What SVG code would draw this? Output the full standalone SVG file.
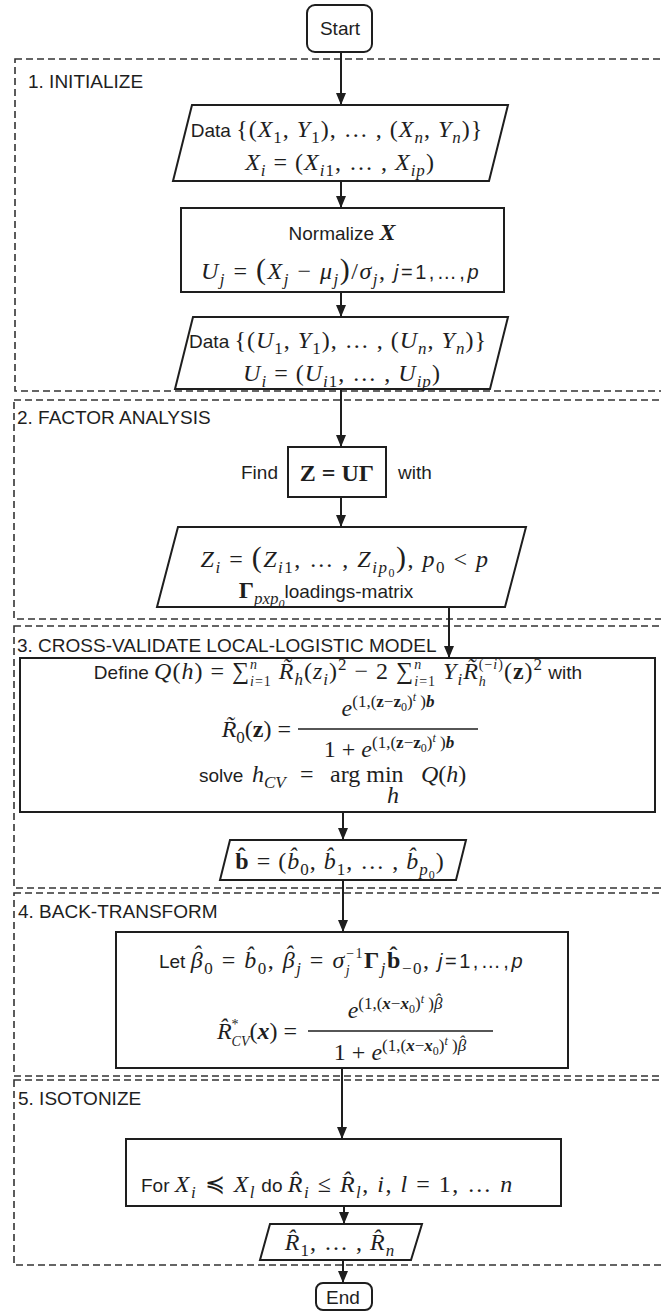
<svg xmlns="http://www.w3.org/2000/svg" width="661" height="1311" viewBox="0 0 661 1311">
<style>
.box{fill:#fff;stroke:#1e1e1e;stroke-width:2}
.sec{fill:none;stroke:#333;stroke-width:1.6;stroke-dasharray:7 4}
.con{fill:none;stroke:#1e1e1e;stroke-width:2;marker-end:url(#ah)}
text{fill:#1e1e1e}
.t{font-family:"Liberation Sans",Arial,sans-serif;font-size:19px}
.lab{font-family:"Liberation Sans",Arial,sans-serif;font-size:19px}
.m{font-family:"Liberation Serif","DejaVu Serif",serif;font-size:24px}
.i{font-style:italic}
.b{font-weight:bold}
.sb{font-size:17px;baseline-shift:-6px}
.sp{font-size:17px;baseline-shift:9px}
.lsp{font-size:14px;baseline-shift:10px}
.lsb{font-size:14px;baseline-shift:-7px}
.ss{font-size:12px;baseline-shift:-4px}
.ssp{font-size:12px;baseline-shift:6px}
.big{font-size:30px}
.sm{font-family:"Liberation Sans",Arial,sans-serif;font-size:20px;letter-spacing:2.5px}
.l1{letter-spacing:1px}
.l15{letter-spacing:1.5px}
</style>
<defs>
<marker id="ah" viewBox="0 0 12 10" refX="12" refY="5" markerWidth="12" markerHeight="10" markerUnits="userSpaceOnUse" orient="auto"><path d="M0,0 L12,5 L0,10 z" fill="#1e1e1e"/></marker>
</defs>
<rect width="661" height="1311" fill="#fff"/>

<g id="sections">
<g id="sec1"><rect class="sec" x="15" y="59" width="660" height="332"/><text class="lab" x="28" y="88">1. INITIALIZE</text></g>
<g id="sec2"><rect class="sec" x="14" y="400" width="660" height="219"/><text class="lab" x="17" y="424">2. FACTOR ANALYSIS</text></g>
<g id="sec3"><rect class="sec" x="14" y="626" width="660" height="262"/><text class="lab" x="17" y="652">3. CROSS-VALIDATE LOCAL-LOGISTIC MODEL</text></g>
<g id="sec4"><rect class="sec" x="14" y="893" width="660" height="183"/><text class="lab" x="18" y="918">4. BACK-TRANSFORM</text></g>
<g id="sec5"><rect class="sec" x="14" y="1080" width="660" height="185"/><text class="lab" x="18" y="1105">5. ISOTONIZE</text></g>
</g>

<g id="connectors">
<line class="con" x1="341" y1="52" x2="341" y2="105"/>
<line class="con" x1="341" y1="181" x2="341" y2="208"/>
<line class="con" x1="341" y1="292" x2="341" y2="317"/>
<line class="con" x1="341" y1="389" x2="341" y2="447"/>
<line class="con" x1="341" y1="497" x2="341" y2="527"/>
<line class="con" x1="449" y1="607" x2="449" y2="658"/>
<line class="con" x1="343" y1="812" x2="343" y2="840"/>
<line class="con" x1="343" y1="880" x2="343" y2="932"/>
<line class="con" x1="342" y1="1068" x2="342" y2="1139"/>
<line class="con" x1="344" y1="1206" x2="344" y2="1224"/>
<line class="con" x1="343" y1="1260" x2="343" y2="1283"/>
</g>

<g id="start">
<rect class="box" x="307" y="5" width="65" height="47" rx="8"/>
<text class="t" x="340" y="35" text-anchor="middle" font-size="21">Start</text>
</g>

<g id="data1">
<polygon class="box" points="192,105 508,105 489,181 173,181"/>
<text x="337" y="137" text-anchor="middle"><tspan class="t">Data </tspan><tspan class="m l1">{(<tspan class="i">X</tspan><tspan class="sb">1</tspan>, <tspan class="i">Y</tspan><tspan class="sb">1</tspan>), … , (<tspan class="i">X</tspan><tspan class="sb i">n</tspan>, <tspan class="i">Y</tspan><tspan class="sb i">n</tspan>)}</tspan></text>
<text class="m l1" x="340" y="170" text-anchor="middle"><tspan class="i">X</tspan><tspan class="sb i">i</tspan> = (<tspan class="i">X</tspan><tspan class="sb"><tspan class="i">i</tspan>1</tspan>, … , <tspan class="i">X</tspan><tspan class="sb i">ip</tspan>)</text>
</g>

<g id="normalize">
<rect class="box" x="181" y="208" width="323" height="84"/>
<text x="342" y="240" text-anchor="middle"><tspan class="t">Normalize </tspan><tspan class="m b i">X</tspan></text>
<text x="341" y="279" text-anchor="middle"><tspan class="m l15" font-size="26"><tspan class="i">U</tspan><tspan class="sb i">j</tspan> = <tspan class="big">(</tspan><tspan class="i">X</tspan><tspan class="sb i">j</tspan> − <tspan class="i">μ</tspan><tspan class="sb i">j</tspan><tspan class="big">)</tspan>/<tspan class="i">σ</tspan><tspan class="sb i">j</tspan>, </tspan><tspan class="sm"><tspan class="i">j</tspan>=1,…,<tspan class="i">p</tspan></tspan></text>
</g>

<g id="data2">
<polygon class="box" points="193,317 508,317 490,389 175,389"/>
<text x="338" y="348" text-anchor="middle"><tspan class="t">Data </tspan><tspan class="m l1">{(<tspan class="i">U</tspan><tspan class="sb">1</tspan>, <tspan class="i">Y</tspan><tspan class="sb">1</tspan>), … , (<tspan class="i">U</tspan><tspan class="sb i">n</tspan>, <tspan class="i">Y</tspan><tspan class="sb i">n</tspan>)}</tspan></text>
<text class="m l1" x="342" y="381" text-anchor="middle"><tspan class="i">U</tspan><tspan class="sb i">i</tspan> = (<tspan class="i">U</tspan><tspan class="sb"><tspan class="i">i</tspan>1</tspan>, … , <tspan class="i">U</tspan><tspan class="sb i">ip</tspan>)</text>
</g>

<g id="find">
<text class="t" x="241" y="479">Find</text>
<rect class="box" x="288" y="447" width="98" height="50"/>
<text class="m b" x="337" y="481" text-anchor="middle" font-size="25">Z = UΓ</text>
<text class="t" x="398" y="479">with</text>
</g>

<g id="factors">
<polygon class="box" points="178,527 526,527 505,607 157,607"/>
<text class="m l15" x="345" y="567" text-anchor="middle"><tspan class="i">Z</tspan><tspan class="sb i">i</tspan> = <tspan class="big">(</tspan><tspan class="i">Z</tspan><tspan class="sb"><tspan class="i">i</tspan>1</tspan>, … , <tspan class="i">Z</tspan><tspan class="sb"><tspan class="i">ip</tspan><tspan class="ss">0</tspan></tspan><tspan class="big">)</tspan>, <tspan class="i">p</tspan><tspan class="sb">0</tspan> &lt; <tspan class="i">p</tspan></text>
<text x="326" y="598" text-anchor="middle"><tspan class="m b">Γ</tspan><tspan class="m sb i">pxp<tspan class="ss">0</tspan></tspan><tspan class="t">loadings-matrix</tspan></text>
</g>

<g id="crossvalidate">
<rect class="box" x="20" y="658" width="635" height="154"/>
<text x="338" y="679" text-anchor="middle"><tspan class="t">Define </tspan><tspan class="m l1"><tspan class="i">Q</tspan>(<tspan class="i">h</tspan>) = ∑<tspan class="lsp i">n</tspan><tspan class="lsb" dx="-8"><tspan class="i">i</tspan>=1</tspan> <tspan class="i">R̃</tspan><tspan class="sb i">h</tspan>(<tspan class="i">z</tspan><tspan class="sb i">i</tspan>)<tspan class="sp">2</tspan> − 2 ∑<tspan class="lsp i">n</tspan><tspan class="lsb" dx="-8"><tspan class="i">i</tspan>=1</tspan> <tspan class="i">Y</tspan><tspan class="sb i">i</tspan><tspan class="i">R̃</tspan><tspan class="lsb i">h</tspan><tspan class="lsp" dx="-8">(−<tspan class="i">i</tspan>)</tspan>(<tspan class="b">z</tspan>)<tspan class="sp">2</tspan></tspan><tspan class="t"> with</tspan></text>
<text class="m" x="291" y="737" text-anchor="end"><tspan class="i">R̃</tspan><tspan class="sb">0</tspan>(<tspan class="b">z</tspan>) =</text>
<line x1="298" y1="729" x2="478" y2="729" stroke="#1e1e1e" stroke-width="1.6"/>
<text class="m" x="388" y="716" text-anchor="middle"><tspan class="i">e</tspan><tspan class="sp">(1,(<tspan class="b">z</tspan>−<tspan class="b">z</tspan><tspan class="ss">0</tspan>)<tspan class="ssp i">t</tspan> )<tspan class="b i">b</tspan></tspan></text>
<text class="m" x="389" y="757" text-anchor="middle">1 + <tspan class="i">e</tspan><tspan class="sp">(1,(<tspan class="b">z</tspan>−<tspan class="b">z</tspan><tspan class="ss">0</tspan>)<tspan class="ssp i">t</tspan> )<tspan class="b i">b</tspan></tspan></text>
<text x="199" y="782"><tspan class="t">solve </tspan><tspan class="m" x="252"><tspan class="i">h</tspan><tspan class="sb i">CV</tspan></tspan><tspan class="m" x="300">=</tspan><tspan class="m" x="330">arg min</tspan><tspan class="m" x="421"><tspan class="i">Q</tspan>(<tspan class="i">h</tspan>)</tspan><tspan class="m i" x="387" y="803" font-size="16">h</tspan></text>
</g>

<g id="bhat">
<polygon class="box" points="230,840 466,840 456,880 220,880"/>
<text class="m l1" x="340" y="869" text-anchor="middle"><tspan class="b">b̂</tspan> = (<tspan class="i">b̂</tspan><tspan class="sb">0</tspan>, <tspan class="i">b̂</tspan><tspan class="sb">1</tspan>, … , <tspan class="i">b̂</tspan><tspan class="sb"><tspan class="i">p</tspan><tspan class="ss">0</tspan></tspan>)</text>
</g>

<g id="backtransform">
<rect class="box" x="116" y="932" width="452" height="136"/>
<text x="342" y="968" text-anchor="middle"><tspan class="t">Let </tspan><tspan class="m l15"><tspan class="i">β<tspan dx="-11.5" baseline-shift="6">ˆ</tspan></tspan><tspan class="sb" dx="2">0</tspan> = <tspan class="i">b̂</tspan><tspan class="sb">0</tspan>, <tspan class="i">β<tspan dx="-11.5" baseline-shift="6">ˆ</tspan></tspan><tspan class="sb i" dx="2">j</tspan> = <tspan class="i">σ</tspan><tspan class="lsb i">j</tspan><tspan class="lsp" dx="-5">−1</tspan><tspan class="b">Γ</tspan><tspan class="sb i">j</tspan><tspan class="b">b̂</tspan><tspan class="sb">−0</tspan>, </tspan><tspan class="sm"><tspan class="i">j</tspan>=1,…,<tspan class="i">p</tspan></tspan></text>
<text class="m" x="297" y="1039" text-anchor="end"><tspan class="i">R̂</tspan><tspan class="lsp">*</tspan><tspan class="lsb i" dx="-7">CV</tspan>(<tspan class="b i">x</tspan>) =</text>
<line x1="308" y1="1031" x2="493" y2="1031" stroke="#1e1e1e" stroke-width="1.6"/>
<text class="m" x="395" y="1018" text-anchor="middle"><tspan class="i">e</tspan><tspan class="sp">(1,(<tspan class="b i">x</tspan>−<tspan class="b i">x</tspan><tspan class="ss">0</tspan>)<tspan class="ssp i">t</tspan> )<tspan class="i">β<tspan dx="-7.5" baseline-shift="4">ˆ</tspan></tspan></tspan></text>
<text class="m" x="400" y="1060" text-anchor="middle">1 + <tspan class="i">e</tspan><tspan class="sp">(1,(<tspan class="b i">x</tspan>−<tspan class="b i">x</tspan><tspan class="ss">0</tspan>)<tspan class="ssp i">t</tspan> )<tspan class="i">β<tspan dx="-7.5" baseline-shift="4">ˆ</tspan></tspan></tspan></text>
</g>

<g id="isotonize">
<rect class="box" x="126" y="1139" width="435" height="67"/>
<text x="141" y="1192"><tspan class="t">For </tspan><tspan class="m l15"><tspan class="i">X</tspan><tspan class="sb i">i</tspan> ≼ <tspan class="i">X</tspan><tspan class="sb i">l</tspan></tspan><tspan class="t"> do </tspan><tspan class="m l15"><tspan class="i">R̂</tspan><tspan class="sb i">i</tspan> ≤ <tspan class="i">R̂</tspan><tspan class="sb i">l</tspan>,  <tspan class="i">i</tspan>, <tspan class="i">l</tspan> = 1, … <tspan class="i">n</tspan></tspan></text>
</g>

<g id="rhat">
<polygon class="box" points="270,1224 422,1224 411,1260 260,1260"/>
<text class="m l1" x="340" y="1250" text-anchor="middle"><tspan class="i">R̂</tspan><tspan class="sb">1</tspan>, … , <tspan class="i">R̂</tspan><tspan class="sb i">n</tspan></text>
</g>

<g id="end">
<rect class="box" x="316" y="1283" width="56" height="27" rx="7"/>
<text class="t" x="343" y="1304" text-anchor="middle" font-size="20">End</text>
</g>
</svg>
